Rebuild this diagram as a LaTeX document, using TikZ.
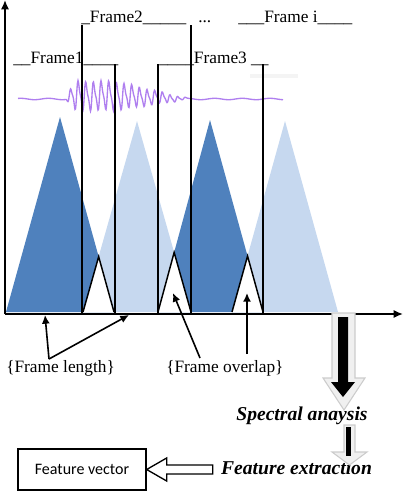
\documentclass[tikz,border=0pt]{standalone}
\usepackage{fontspec}
\setmainfont{Liberation Serif}
\newfontfamily\calibrifont{Carlito}
\usetikzlibrary{arrows.meta}
\definecolor{darkblue}{RGB}{79,129,189}
\definecolor{lightblue}{RGB}{198,216,239}
\definecolor{wavepurple}{RGB}{155,95,235}

\begin{document}
\begin{tikzpicture}[x=0.75pt,y=0.75pt,yscale=-1,xscale=1,
  lbl/.style={inner sep=0.75pt,font=\fontsize{13}{15}\selectfont},
  bold lbl/.style={inner sep=0.75pt,font=\fontsize{14.7}{17}\selectfont\bfseries\itshape},
  frameline/.style={line width=1},
  pointer/.style={line width=1.2,-{Latex[length=6.5pt,width=6pt]}},
  overlap/.style={fill=white,draw=black,line width=1.1}]
 \useasboundingbox (0,0) rectangle (403,493);

 %Shape: Triangle corners
 \coordinate (da1) at (6,312); \coordinate (dt1) at (60,117); \coordinate (db1) at (114,312);
 \coordinate (la2) at (83,312); \coordinate (lt2) at (137,121); \coordinate (lb2) at (191,312);
 \coordinate (da3) at (158,312); \coordinate (dt3) at (210,120); \coordinate (db3) at (263,312);
 \coordinate (la4) at (232,312); \coordinate (lt4) at (285,121); \coordinate (lb4) at (338,312);

 %Shape: Triangle
 \fill [lightblue] (la2) -- (lt2) -- (lb2) -- cycle ;
 \fill [lightblue] (la4) -- (lt4) -- (lb4) -- cycle ;
 \fill [darkblue] (da1) -- (dt1) -- (db1) -- cycle ;
 \fill [darkblue] (da3) -- (dt3) -- (db3) -- cycle ;
 %Shape: Triangle (overlap)
 \draw [overlap] (la2) -- (intersection of dt1--db1 and lt2--la2) -- (db1) ;
 \draw [overlap] (da3) -- (intersection of lt2--lb2 and dt3--da3) -- (lb2) ;
 \draw [overlap] (la4) -- (intersection of dt3--db3 and lt4--la4) -- (db3) ;

 %Curve: Waveform
 \draw [wavepurple, line width=1, opacity=0.8] plot [domain=18:283, samples=531]
   (\x, {99 + 0.7*sin(13*\x) - 16*max(0,min(1,(\x-66)/8))*max(0,min(1,(190-\x)/75))*(0.8*sin(47*\x)+0.5*sin(47*\x)*cos(47*\x)+0.2)}) ;
 %Straight Lines: faint strip
 \draw [gray!9, line width=2.5] (250,76) -- (298,76) ;

 %Straight Lines: frames
 \draw [frameline] (82,25) -- (82,313) ;
 \draw [frameline] (115,64) -- (115,313) ;
 \draw [frameline] (158,64) -- (158,313) ;
 \draw [frameline] (191,25) -- (191,313) ;
 \draw [frameline] (263,64) -- (263,313) ;

 %Straight Lines: axes
 \draw [line width=1.2, -{Latex[length=7pt,width=6pt]}] (5,314) -- (5,0) ;
 \draw [line width=1.2, -{Latex[length=7pt,width=6pt]}] (5,314) -- (403,314) ;

 % Text Node
 \draw (80,22) node [anchor=base west][lbl] (frametwo) {\_Frame2\_\_\_\_\_};
 % Text Node
 \draw (197,22) node [anchor=base west][lbl] (framedots) {...};
 % Text Node
 \draw (237,22) node [anchor=base west][lbl] (framei) {\_\_\_Frame i\_\_\_\_};
 % Text Node
 \draw (12,63) node [anchor=base west][lbl] (frameone) {\_\_Frame1\_\_\_\_};
 % Text Node
 \draw (158,63) node [anchor=base west][lbl] (framethree) {\_\_\_\_Frame3 \_\_};

 % Text Node
 \draw (5,368) node [anchor=west][lbl] (framelen) {\{Frame length\}};
 % Text Node
 \draw (165,368) node [anchor=west][lbl] (frameovl) {\{Frame overlap\}};

 %Straight Lines: pointers
 \coordinate (lenroot) at (49,359);
 \coordinate (lenA) at (45,315);
 \coordinate (lenB) at (129,315);
 \coordinate (ovlrootA) at (200,358);
 \coordinate (ovlA) at (173,293);
 \coordinate (ovlrootB) at (247,354);
 \coordinate (ovlB) at (247,293);
 \draw [pointer] (lenroot) -- (lenA) ;
 \draw [pointer] (lenroot) -- (lenB) ;
 \draw [pointer] (ovlrootA) -- (ovlA) ;
 \draw [pointer] (ovlrootB) -- (ovlB) ;

 % Text Node
 \draw (302,416) node [bold lbl] (spectral) {Spectral anaysis};
 % Text Node
 \draw (296.5,468) node [bold lbl] (featext) {Feature extraction};
 % Text Node
 \draw (82,469.5) node [draw, line width=1, minimum width=96pt, minimum height=30.75pt, inner sep=0.75pt, font=\calibrifont\fontsize{12}{14}\selectfont] (featvec) {Feature vector};

 %Shape: Block Arrow (down)
 \draw [fill=gray!12, draw=gray!40, line width=0.8] (332,313) -- (355,313) -- (355,378) -- (365,378) -- (344,410) -- (323,378) -- (332,378) -- cycle ;
 \fill [black] (338,317) -- (348,317) -- (348,382) -- (355,382) -- (343,397) -- (331,382) -- (338,382) -- cycle ;
 %Shape: Block Arrow (down)
 \draw [fill=gray!12, draw=gray!40, line width=0.8] (344,425) -- (355,425) -- (355,452) -- (367,452) -- (349.5,465) -- (332,452) -- (344,452) -- cycle ;
 \fill [black] (346,427) -- (351,427) -- (351,456) -- (346,456) -- cycle ;

 %Shape: Block Arrow (left)
 \draw [fill=white, line width=1] (featvec.east) -- ++(20,-11.5) -- ++(0,7) -- ++(46,0) -- ++(0,9) -- ++(-46,0) -- ++(0,7) -- cycle ;

\end{tikzpicture}
\end{document}
